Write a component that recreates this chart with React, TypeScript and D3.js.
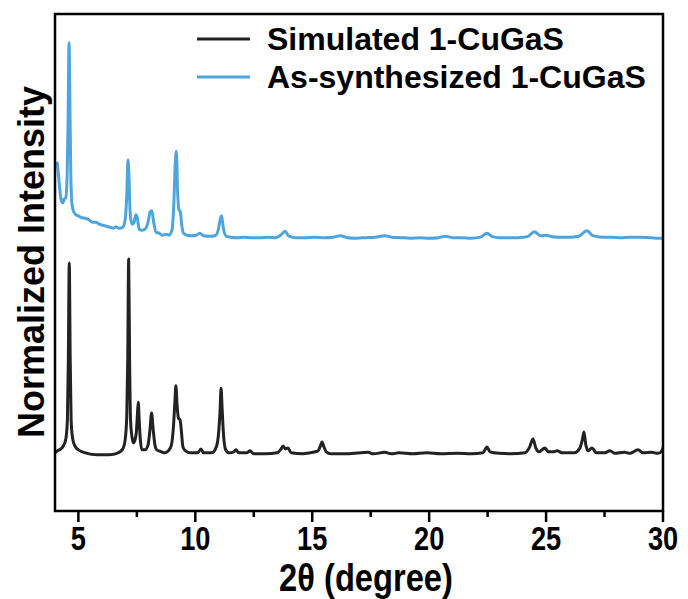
import React from 'react';
import * as d3 from 'd3';

// Simulated pattern: [2θ, intensity]
const simulated: [number, number][] = [
  [4.0, 11.7], [4.1, 12.1], [4.25, 12.5], [4.38, 13.3], [4.47, 14.7], [4.53, 18.3], [4.57, 30.4],
  [4.61, 49.9], [4.65, 30.4], [4.69, 18.3], [4.75, 14.7], [4.85, 13.1], [5.0, 12.3], [5.3, 11.7],
  [5.8, 11.3], [6.3, 11.3], [6.7, 11.7], [6.9, 12.5], [7.0, 14.3], [7.07, 19.3], [7.11, 30.4],
  [7.15, 50.7], [7.19, 30.4], [7.23, 18.3], [7.3, 14.7], [7.36, 13.7], [7.42, 14.3], [7.48, 15.9],
  [7.53, 19.9], [7.56, 21.9], [7.6, 18.3], [7.65, 14.3], [7.72, 12.3], [7.85, 12.3], [7.98, 13.3],
  [8.06, 16.3], [8.13, 19.7], [8.2, 16.3], [8.28, 13.1], [8.35, 12.3], [8.45, 12.1], [8.55, 11.9],
  [8.7, 11.7], [8.85, 12.1], [8.98, 13.3], [9.07, 17.3], [9.13, 22.3], [9.17, 25.2], [9.22, 21.3],
  [9.28, 18.7], [9.35, 18.3], [9.4, 16.3], [9.47, 12.9], [9.58, 12.1], [9.8, 11.7], [10.1, 11.7],
  [10.24, 12.5], [10.35, 11.7], [10.7, 11.7], [10.9, 12.9], [11.0, 15.9], [11.06, 20.3], [11.1, 24.7],
  [11.15, 20.3], [11.21, 15.1], [11.3, 12.3], [11.45, 11.7], [11.65, 11.9], [11.74, 12.3], [11.85, 11.7],
  [12.2, 11.7], [12.34, 12.1], [12.5, 11.5], [13.0, 11.5], [13.5, 11.7], [13.67, 12.5], [13.75, 13.1],
  [13.85, 12.5], [13.96, 12.7], [14.1, 11.7], [14.6, 11.5], [14.9, 11.7], [15.25, 12.1], [15.35, 13.1],
  [15.42, 13.9], [15.5, 12.9], [15.6, 11.9], [15.8, 11.5], [16.5, 11.5], [17.4, 11.8], [17.6, 11.5],
  [18.1, 11.8], [18.4, 11.5], [18.7, 11.7], [19.3, 11.5], [19.9, 11.7], [20.5, 11.5], [21.2, 11.6],
  [21.8, 11.5], [22.3, 11.7], [22.47, 12.9], [22.6, 11.9], [23.0, 11.6], [23.5, 11.5], [24.1, 11.7],
  [24.3, 12.9], [24.44, 14.5], [24.56, 12.7], [24.7, 11.9], [24.95, 12.7], [25.1, 11.9], [25.3, 11.9],
  [25.47, 12.1], [25.7, 11.7], [26.2, 11.7], [26.45, 12.7], [26.55, 14.3], [26.62, 15.9], [26.7, 13.3],
  [26.8, 12.1], [26.96, 12.7], [27.15, 11.7], [27.5, 11.7], [27.73, 12.1], [27.95, 11.6], [28.35, 11.8],
  [28.6, 11.6], [28.93, 12.3], [29.15, 11.7], [29.5, 11.8], [29.8, 11.6], [29.95, 12.1], [30.0, 12.7],
];

// As-synthesized pattern: [2θ, intensity]
const synthesized: [number, number][] = [
  [4.1, 70.0], [4.18, 66.0], [4.26, 62.6], [4.33, 62.0], [4.4, 62.8], [4.46, 63.0], [4.52, 67.6],
  [4.56, 78.7], [4.6, 94.2], [4.64, 80.7], [4.68, 66.6], [4.73, 61.6], [4.8, 60.2], [4.9, 59.6],
  [5.0, 59.4], [5.15, 59.0], [5.3, 58.9], [5.45, 58.6], [5.6, 58.1], [5.75, 58.1], [5.9, 57.7],
  [6.05, 57.5], [6.2, 57.3], [6.35, 57.1], [6.5, 56.9], [6.6, 57.2], [6.75, 56.9], [6.9, 57.1],
  [7.0, 58.6], [7.07, 63.6], [7.12, 70.6], [7.16, 67.6], [7.22, 59.6], [7.3, 57.7], [7.38, 58.1],
  [7.46, 59.6], [7.52, 59.0], [7.6, 56.7], [7.72, 56.5], [7.85, 56.7], [7.98, 58.1], [8.07, 60.2],
  [8.14, 60.4], [8.22, 58.1], [8.32, 56.1], [8.45, 55.9], [8.6, 55.5], [8.75, 55.7], [8.88, 55.5],
  [9.0, 56.5], [9.08, 61.6], [9.14, 69.6], [9.19, 72.4], [9.24, 64.6], [9.3, 60.6], [9.36, 60.2],
  [9.42, 57.5], [9.5, 55.9], [9.65, 55.5], [9.85, 55.4], [10.05, 55.5], [10.2, 55.9], [10.35, 55.4],
  [10.6, 55.3], [10.85, 55.4], [10.98, 56.5], [11.06, 58.6], [11.12, 59.4], [11.2, 56.9], [11.32, 55.3],
  [11.5, 55.1], [11.8, 55.0], [12.1, 55.1], [12.4, 55.0], [12.8, 55.0], [13.1, 55.1], [13.4, 55.0],
  [13.65, 55.5], [13.84, 56.3], [14.0, 55.3], [14.3, 55.0], [14.7, 55.0], [15.1, 55.1], [15.5, 55.0],
  [15.9, 55.1], [16.2, 55.4], [16.5, 55.0], [16.9, 54.9], [17.3, 55.0], [17.7, 55.1], [18.1, 55.4],
  [18.4, 55.1], [18.8, 55.0], [19.2, 54.9], [19.6, 55.0], [20.0, 54.9], [20.4, 55.0], [20.7, 55.3],
  [21.0, 55.0], [21.4, 55.0], [21.8, 54.9], [22.2, 55.1], [22.47, 55.9], [22.7, 55.2], [23.0, 55.0],
  [23.4, 55.0], [23.8, 55.0], [24.2, 55.2], [24.5, 56.2], [24.75, 55.4], [25.0, 55.5], [25.25, 55.2],
  [25.6, 55.1], [26.0, 55.1], [26.4, 55.3], [26.75, 56.4], [27.0, 55.4], [27.4, 55.1], [27.8, 55.1],
  [28.2, 55.0], [28.6, 55.1], [29.0, 55.1], [29.4, 55.0], [29.7, 54.9], [30.0, 54.9],
];

const xMajorTicks = [5, 10, 15, 20, 25, 30];
const xMinorTicks = [7.5, 12.5, 17.5, 22.5, 27.5];
const seriesNames = ['Simulated 1-CuGaS', 'As-synthesized 1-CuGaS'];
const seriesColors = ['#222222', '#4ea5de'];
const xTitle = '2θ (degree)';
const yTitle = 'Normalized Intensity';

export default function App() {
  const W = 688, H = 599;
  const L = 55, R = 663, T = 14, B = 511;
  const x = d3.scaleLinear().domain([4, 30]).range([L, R]);
  const y = d3.scaleLinear().domain([0, 100]).range([B, T]);
  const line = d3.line<[number, number]>()
    .x(d => x(d[0]))
    .y(d => y(d[1]))
    .curve(d3.curveMonotoneX);
  const sans = '"Liberation Sans", Arial, sans-serif';
  const legendY = [39, 77];
  const sx = 0.8;
  return (
    <svg width={W} height={H} style={{ position: 'absolute', left: 0, top: 0, background: '#fff' }}>
      <defs>
        <clipPath id="plot">
          <rect x={L} y={T} width={R - L} height={B - T} />
        </clipPath>
      </defs>
      <g clipPath="url(#plot)" fill="none" strokeLinejoin="round" strokeLinecap="round">
        <path d={line(simulated) || ''} stroke={seriesColors[0]} strokeWidth={3} />
        <path d={line(synthesized) || ''} stroke={seriesColors[1]} strokeWidth={3} />
      </g>
      <rect x={L} y={T} width={R - L} height={B - T} fill="none" stroke="#000" strokeWidth={2.5} />
      {xMajorTicks.map(t => (
        <line key={'M' + t} x1={x(t)} x2={x(t)} y1={B} y2={B + 11} stroke="#000" strokeWidth={2.5} />
      ))}
      {xMinorTicks.map(t => (
        <line key={'m' + t} x1={x(t)} x2={x(t)} y1={B} y2={B + 6} stroke="#000" strokeWidth={2.5} />
      ))}
      {xMajorTicks.map(t => (
        <text key={'l' + t} transform={`translate(${x(t)},550) scale(${sx},1)`} textAnchor="middle" fontFamily={sans} fontWeight="bold" fontSize={34}>{t}</text>
      ))}
      <text transform={`translate(366,591) scale(0.86,1)`} textAnchor="middle" fontFamily={sans} fontWeight="bold" fontSize={38}>{xTitle}</text>
      <text transform={`translate(44,${262}) rotate(-90)`} textAnchor="middle" fontFamily={sans} fontWeight="bold" fontSize={36}>{yTitle}</text>
      {seriesNames.map((n, i) => (
        <g key={n}>
          <line x1={197} x2={250} y1={legendY[i]} y2={legendY[i]} stroke={seriesColors[i]} strokeWidth={3} />
          <text x={267} y={legendY[i] + 11} fontFamily={sans} fontWeight="bold" fontSize={32}>{n}</text>
        </g>
      ))}
    </svg>
  );
}
